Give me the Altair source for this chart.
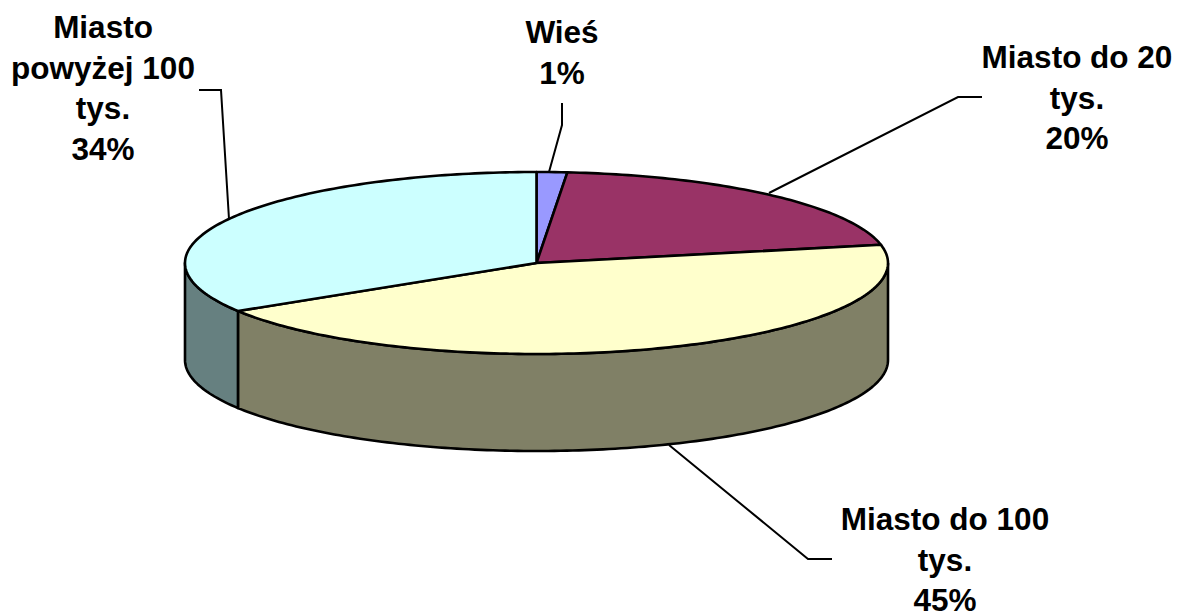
import math
import altair as alt
import pandas as pd

categories = ["Wieś", "Miasto do 20 tys.", "Miasto do 100 tys.", "Miasto powyżej 100 tys."]
shares = [1.4, 20.4, 44.35, 33.85]
top_colors = ["#9999FF", "#993366", "#FFFFCC", "#CCFFFF"]
side_colors = ["#4D4D80", "#4D1A33", "#808066", "#668080"]

label_lines = [
    ["Wieś", "1%"],
    ["Miasto do 20", "tys.", "20%"],
    ["Miasto do 100", "tys.", "45%"],
    ["Miasto", "powyżej 100", "tys.", "34%"],
]
label_x = [562, 1077, 945, 103]
label_first_y = [34, 59, 521, 29]
line_gap = 40.7

leaders = [
    [(562, 103), (562, 125), (549, 172)],
    [(982, 97), (958, 97), (769, 193)],
    [(832, 559), (808, 559), (669, 445)],
    [(199, 90), (221, 90), (229, 219)],
]

CX, CY, RX, RY, DEPTH = 536.5, 263, 351.5, 91, 97


def rim(deg, dy=0):
    a = math.radians(deg)
    return CX + RX * math.sin(a), CY - RY * math.cos(a) + dy


def arc(a0, a1, dy=0):
    n = max(2, int(abs(a1 - a0) / 1.0) + 1)
    return [rim(a0 + (a1 - a0) * i / (n - 1), dy) for i in range(n)]


W, H = 1165, 596
xs = alt.Scale(domain=[8, 8 + W], range=[0, W], nice=False, zero=False)
ys = alt.Scale(domain=[8, 8 + H], range=[0, H], nice=False, zero=False)


def poly(pts, fill, sw=2.6):
    df = pd.DataFrame(pts + [pts[0]], columns=["x", "y"])
    df["i"] = range(len(df))
    return alt.Chart(df).mark_line(fill=fill, stroke="black", strokeWidth=sw, strokeJoin="round", clip=False).encode(
        x=alt.X("x:Q", scale=xs, axis=None),
        y=alt.Y("y:Q", scale=ys, axis=None),
        order="i:Q",
    )


layers = []
edges = []
c = 0
for s in shares:
    edges.append((c, c + s * 3.6))
    c += s * 3.6

# side walls: the visible lower half of the rim, from 90 to 270 degrees
for (a0, a1), col in zip(edges, side_colors):
    lo, hi = max(a0, 90), min(a1, 270)
    if lo < hi:
        layers.append(poly(arc(lo, hi) + arc(hi, lo, DEPTH), col))

# top faces
for (a0, a1), col in zip(edges, top_colors):
    layers.append(poly([(CX, CY)] + arc(a0, a1), col))

# leader lines
for seg in leaders:
    df = pd.DataFrame(seg, columns=["x", "y"])
    df["i"] = range(len(df))
    layers.append(alt.Chart(df).mark_line(stroke="black", strokeWidth=2).encode(
        x=alt.X("x:Q", scale=xs, axis=None),
        y=alt.Y("y:Q", scale=ys, axis=None),
        order="i:Q",
    ))

# labels
rows = []
for lines, lx, ly in zip(label_lines, label_x, label_first_y):
    for j, t in enumerate(lines):
        rows.append({"x": lx, "y": ly + j * line_gap, "t": t})
layers.append(alt.Chart(pd.DataFrame(rows)).mark_text(
    font="Liberation Sans", fontWeight="bold", fontSize=31.5, color="black", align="center", baseline="middle"
).encode(
    x=alt.X("x:Q", scale=xs, axis=None),
    y=alt.Y("y:Q", scale=ys, axis=None),
    text="t:N",
))

chart = alt.layer(*layers).properties(
    width=W, height=H, padding=0, background="white"
).configure_view(stroke=None)

chart.save("out.html", embed_options={"renderer": "svg", "actions": False})
